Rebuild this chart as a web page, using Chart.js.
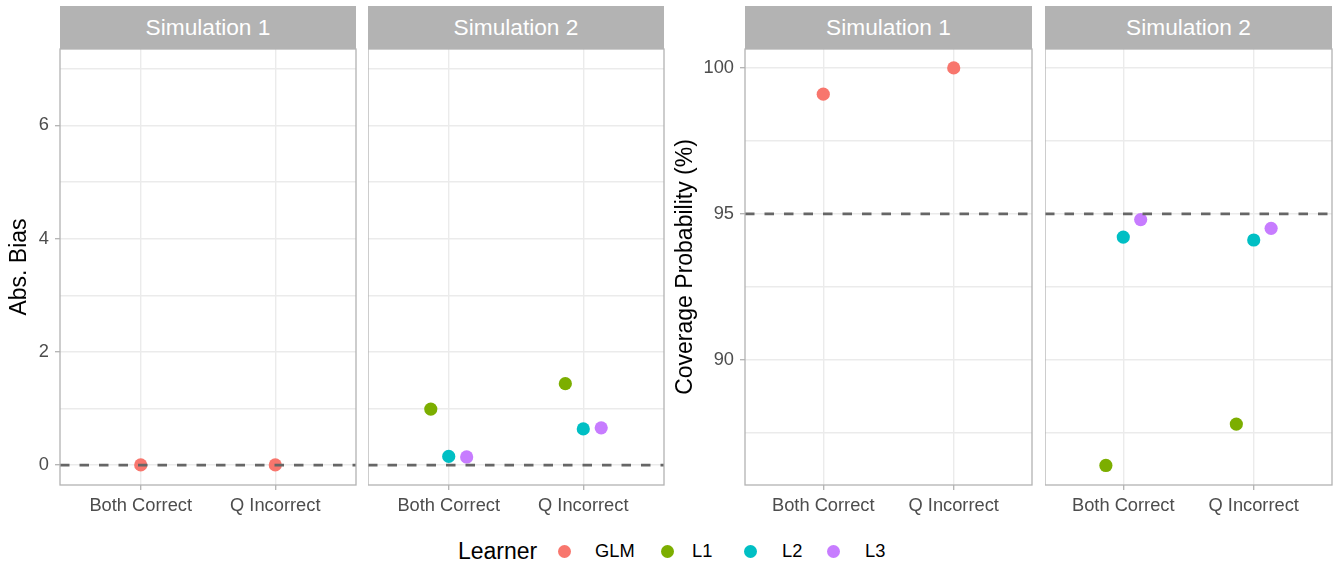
<!DOCTYPE html>
<html>
<head>
<meta charset="utf-8">
<script src="https://cdn.jsdelivr.net/npm/chart.js@4.4.1/dist/chart.umd.min.js"></script>
<style>
  html, body { margin: 0; padding: 0; background: #ffffff; }
  body { width: 1333px; height: 561px; position: relative; overflow: hidden;
         font-family: "Liberation Sans", Arial, Helvetica, sans-serif; }
  .strip { position: absolute; top: 6px; height: 43px; background: #b3b3b3; color: #ffffff;
           font-size: 22.7px; display: flex; align-items: center; justify-content: center; }
  .wrap { position: absolute; }
  .legend-title { position: absolute; top: 536px; height: 30px; line-height: 30px; font-size: 23px; color: #000; white-space: nowrap; }
  .legend-label { position: absolute; top: 537px; height: 28px; line-height: 28px; font-size: 18.3px; color: #000; white-space: nowrap; }
  .legend-dot { position: absolute; width: 13px; height: 13px; border-radius: 50%; }
</style>
</head>
<body>
<script>
// ---------------- DATA ----------------
const categories = ['Both Correct', 'Q Incorrect'];
const facets = ['Simulation 1', 'Simulation 2'];
const learners = ['GLM', 'L1', 'L2', 'L3'];
const learnerColors = ['#F8766D', '#7CAE00', '#00BFC4', '#C77CFF'];

// Abs. Bias (per category: Both Correct, Q Incorrect)
const biasSim1GLM = [0.005, 0.005];
const biasSim2L1 = [0.99, 1.44];
const biasSim2L2 = [0.155, 0.64];
const biasSim2L3 = [0.145, 0.66];

// Coverage Probability (%)
const covSim1GLM = [99.1, 100];
const covSim2L1 = [86.37, 87.79];
const covSim2L2 = [94.2, 94.1];
const covSim2L3 = [94.8, 94.5];

const biasMajorTicks = [0, 2, 4, 6];
const biasMinorTicks = [1, 3, 5, 7];
const covMajorTicks = [90, 95, 100];
const covMinorTicks = [87.5, 92.5, 97.5];
const biasRange = [-0.35, 7.35];
const covRange = [85.7, 100.65];
const biasRef = 0;
const covRef = 95;
const biasTitle = 'Abs. Bias';
const covTitle = 'Coverage Probability (%)';
const legendTitle = 'Learner';

// ---------------- LAYOUT / STYLE ----------------
Chart.defaults.font.family = '"Liberation Sans", Arial, Helvetica, sans-serif';
const PLOT_TOP = 49, PLOT_H = 436, X_AXIS_H = 40, PAD_TOP = 4, PAD_RIGHT = 2;
const DODGE = 0.4;
const TICK_FONT = 18.3, TITLE_FONT = 23;

const framePlugin = {
  id: 'frame',
  afterDraw(chart) {
    const a = chart.chartArea, ctx = chart.ctx;
    ctx.save();
    ctx.strokeStyle = '#b3b3b3';
    ctx.lineWidth = 1.3;
    ctx.strokeRect(a.left, a.top, a.right - a.left, a.bottom - a.top);
    ctx.restore();
  }
};

function addStrip(left, width, text) {
  const d = document.createElement('div');
  d.className = 'strip';
  d.style.left = left + 'px';
  d.style.width = width + 'px';
  d.textContent = text;
  document.body.appendChild(d);
}

function makePanel(cfg) {
  const cw = cfg.yAxisW + cfg.plotW + PAD_RIGHT;
  const ch = PAD_TOP + PLOT_H + X_AXIS_H;
  const wrap = document.createElement('div');
  wrap.className = 'wrap';
  wrap.style.left = (cfg.plotLeft - cfg.yAxisW) + 'px';
  wrap.style.top = (PLOT_TOP - PAD_TOP) + 'px';
  wrap.style.width = cw + 'px';
  wrap.style.height = ch + 'px';
  const canvas = document.createElement('canvas');
  canvas.width = cw; canvas.height = ch;
  canvas.style.width = cw + 'px'; canvas.style.height = ch + 'px';
  wrap.appendChild(canvas);
  document.body.appendChild(wrap);

  addStrip(cfg.plotLeft, cfg.plotW, cfg.strip);

  const datasets = [];
  // reference dashed line (drawn on top)
  datasets.push({
    type: 'line',
    data: [{ x: 0.4, y: cfg.ref }, { x: 2.6, y: cfg.ref }],
    borderColor: '#666666', borderWidth: 2.8, borderDash: [9.5, 10],
    pointRadius: 0, fill: false, order: 0
  });
  const n = cfg.series.length;
  cfg.series.forEach((s, i) => {
    const off = (i - (n - 1) / 2) * DODGE / n;
    datasets.push({
      type: 'scatter',
      label: learners[s.learner],
      data: s.values.map((v, c) => ({ x: c + 1 + off, y: v })),
      backgroundColor: learnerColors[s.learner],
      borderWidth: 0, pointRadius: 6.6, pointHoverRadius: 6.6, order: 1
    });
  });

  const allY = cfg.major.concat(cfg.minor).sort((a, b) => a - b);
  const showY = cfg.yAxisW > 0;

  new Chart(canvas, {
    data: { datasets },
    options: {
      responsive: false, animation: false, devicePixelRatio: 1,
      layout: { autoPadding: false, padding: { top: PAD_TOP, right: PAD_RIGHT, left: 0, bottom: 0 } },
      plugins: { legend: { display: false }, tooltip: { enabled: false } },
      events: [],
      scales: {
        x: {
          type: 'linear', min: 0.4, max: 2.6,
          afterBuildTicks: s => { s.ticks = [{ value: 1 }, { value: 2 }]; },
          afterFit: s => { s.height = X_AXIS_H; s.paddingLeft = 0; s.paddingRight = 0; },
          ticks: {
            callback: v => categories[Math.round(v) - 1],
            font: { size: TICK_FONT }, color: '#4d4d4d', padding: 5,
            maxRotation: 0, minRotation: 0, autoSkip: false
          },
          grid: { color: '#ebebeb', lineWidth: 1.4, drawTicks: true, tickLength: 5, tickColor: '#b3b3b3', tickWidth: 1.3 },
          border: { display: false }
        },
        y: {
          type: 'linear', min: cfg.range[0], max: cfg.range[1],
          afterBuildTicks: s => { s.ticks = allY.map(v => ({ value: v })); },
          afterFit: s => { s.width = cfg.yAxisW; s.paddingTop = 0; s.paddingBottom = 0; },
          ticks: {
            display: showY,
            callback: v => (cfg.major.includes(v) ? String(v) : ''),
            font: { size: TICK_FONT }, color: '#4d4d4d', padding: 6, autoSkip: false
          },
          grid: {
            color: '#ebebeb', lineWidth: 1.4, drawTicks: showY, tickLength: 5, tickWidth: 1.3,
            tickColor: ctx => (ctx.tick && cfg.major.includes(ctx.tick.value) ? '#b3b3b3' : 'rgba(0,0,0,0)')
          },
          border: { display: false },
          title: {
            display: showY, text: cfg.title || '', color: '#000000',
            font: { size: TITLE_FONT }, padding: { top: cfg.titlePad || 0, bottom: 0 }
          }
        }
      }
    },
    plugins: [framePlugin]
  });
}

// Left plot: Abs. Bias
makePanel({ plotLeft: 60, plotW: 296, yAxisW: 60, strip: facets[0], range: biasRange,
  major: biasMajorTicks, minor: biasMinorTicks, ref: biasRef, title: biasTitle, titlePad: 6.2,
  series: [{ learner: 0, values: biasSim1GLM }] });
makePanel({ plotLeft: 368, plotW: 296, yAxisW: 0, strip: facets[1], range: biasRange,
  major: biasMajorTicks, minor: biasMinorTicks, ref: biasRef,
  series: [{ learner: 1, values: biasSim2L1 }, { learner: 2, values: biasSim2L2 }, { learner: 3, values: biasSim2L3 }] });

// Right plot: Coverage Probability
makePanel({ plotLeft: 745, plotW: 287, yAxisW: 75, strip: facets[0], range: covRange,
  major: covMajorTicks, minor: covMinorTicks, ref: covRef, title: covTitle, titlePad: 1.4,
  series: [{ learner: 0, values: covSim1GLM }] });
makePanel({ plotLeft: 1045, plotW: 287, yAxisW: 0, strip: facets[1], range: covRange,
  major: covMajorTicks, minor: covMinorTicks, ref: covRef,
  series: [{ learner: 1, values: covSim2L1 }, { learner: 2, values: covSim2L2 }, { learner: 3, values: covSim2L3 }] });

// Legend
(function () {
  const t = document.createElement('div');
  t.className = 'legend-title';
  t.style.left = '458px';
  t.textContent = legendTitle;
  document.body.appendChild(t);
  const dotX = [564, 667, 750, 833];
  const labelX = [595, 692, 782, 865];
  learners.forEach((name, i) => {
    const d = document.createElement('div');
    d.className = 'legend-dot';
    d.style.left = (dotX[i] - 6.5) + 'px';
    d.style.top = (551.5 - 6.5) + 'px';
    d.style.background = learnerColors[i];
    document.body.appendChild(d);
    const l = document.createElement('div');
    l.className = 'legend-label';
    l.style.left = labelX[i] + 'px';
    l.textContent = name;
    document.body.appendChild(l);
  });
})();
</script>
</body>
</html>
